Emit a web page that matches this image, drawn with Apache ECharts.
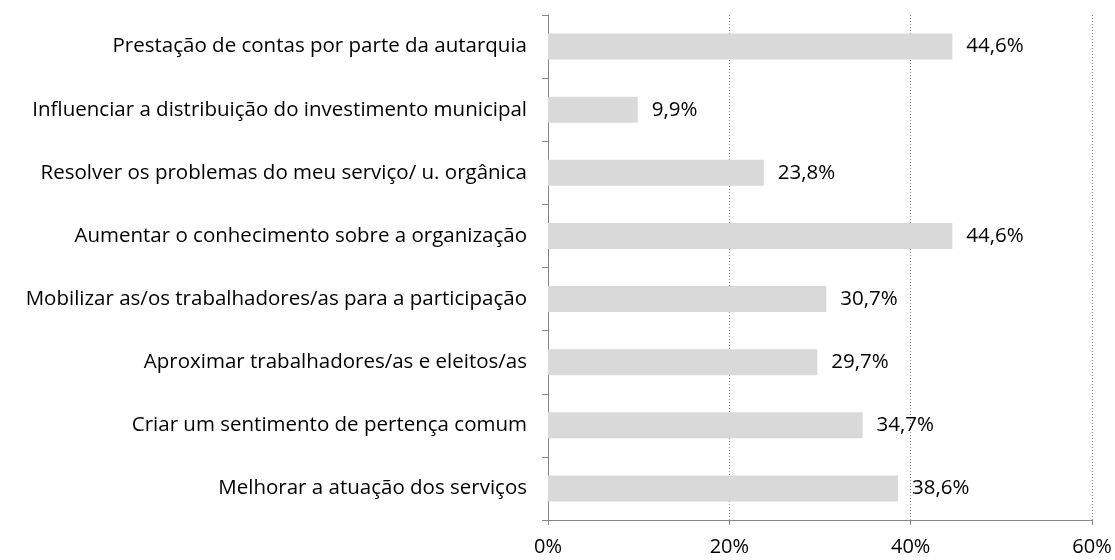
<!DOCTYPE html>
<html>
<head>
<meta charset="utf-8">
<style>
  html, body { margin: 0; padding: 0; background: #fff; }
  #chart { width: 1115px; height: 560px; }
</style>
<script src="https://cdn.jsdelivr.net/npm/echarts@6/dist/echarts.min.js"></script>
</head>
<body>
<div id="chart"></div>
<script>
// categories, bottom to top (as drawn by the y axis)
const categories = [
  'Melhorar a atuação dos serviços',
  'Criar um sentimento de pertença comum',
  'Aproximar trabalhadores/as e eleitos/as',
  'Mobilizar as/os trabalhadores/as para a participação',
  'Aumentar o conhecimento sobre a organização',
  'Resolver os problemas do meu serviço/ u. orgânica',
  'Influenciar a distribuição do investimento municipal',
  'Prestação de contas por parte da autarquia'
]
const values = [38.6, 34.7, 29.7, 30.7, 44.6, 23.8, 9.9, 44.6]
const xTicks = [0, 20, 40, 60]

const font = '"Open Sans", sans-serif'
const chart = echarts.init(document.getElementById('chart'))

const option = {
  animation: false,
  grid: { left: 548, right: 23, top: 15, bottom: 40 },
  xAxis: {
    type: 'value',
    min: xTicks[0],
    max: xTicks[xTicks.length - 1],
    interval: 20,
    axisLine: { show: true, lineStyle: { color: '#868686', width: 1 } },
    axisTick: { show: true, length: 5, lineStyle: { color: '#868686' } },
    axisLabel: {
      color: '#000', fontSize: 20, fontFamily: font, margin: 17,
      formatter: v => v + '%'
    },
    splitLine: { show: true, lineStyle: { color: '#868686', type: [1, 2], width: 1 } }
  },
  yAxis: {
    type: 'category',
    data: categories,
    axisLine: { lineStyle: { color: '#868686', width: 1 } },
    axisTick: { show: true, length: 6, lineStyle: { color: '#868686' } },
    axisLabel: { color: '#000', fontSize: 20.5, fontFamily: font, margin: 21 }
  },
  series: [{
    type: 'bar',
    data: values,
    barWidth: 26,
    itemStyle: { color: '#d9d9d9' },
    label: {
      show: true,
      position: 'right',
      distance: 14,
      color: '#000',
      fontSize: 20.5,
      fontFamily: font,
      formatter: p => p.value.toFixed(1).replace('.', ',') + '%'
    }
  }]
}

chart.setOption(option)
</script>
</body>
</html>
